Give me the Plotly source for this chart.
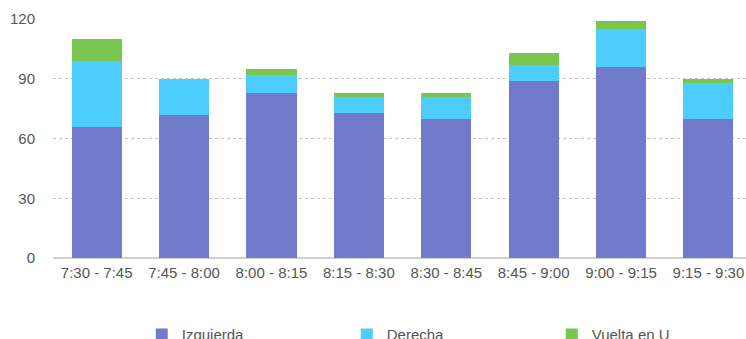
import plotly.graph_objects as go

categories = ["7:30 - 7:45", "7:45 - 8:00", "8:00 - 8:15", "8:15 - 8:30",
              "8:30 - 8:45", "8:45 - 9:00", "9:00 - 9:15", "9:15 - 9:30"]
izquierda = [66, 72, 83, 73, 70, 89, 96, 70]
derecha = [33, 18, 9, 8, 11, 8, 19, 18]
vuelta_u = [11, 0, 3, 2, 2, 6, 4, 2]
y_ticks = [0, 30, 60, 90, 120]

FONT = "Helvetica Neue, Helvetica, Arial, Liberation Sans, sans-serif"
TXT = "#555555"

fig = go.Figure()
fig.add_bar(x=categories, y=izquierda, name="Izquierda", marker=dict(color="#727BCB", line=dict(width=0)))
fig.add_bar(x=categories, y=derecha, name="Derecha", marker=dict(color="#4DCCFE", line=dict(width=0)))
fig.add_bar(x=categories, y=vuelta_u, name="Vuelta en U", marker=dict(color="#79C751", line=dict(width=0)))

fig.update_layout(
    width=746, height=339,
    barmode="stack", bargap=0.427,
    margin=dict(l=53, r=0, t=19, b=81),
    paper_bgcolor="white", plot_bgcolor="white",
    font=dict(family=FONT, size=15, color=TXT),
    showlegend=True,
    legend=dict(
        orientation="h", xref="container", yref="container",
        x=0.19, xanchor="left", y=0.061, yanchor="top",
        entrywidth=160, entrywidthmode="pixels",
        font=dict(family=FONT, size=15, color=TXT),
        traceorder="normal",
    ),
)
fig.update_xaxes(
    range=[-0.5, 7.43], showgrid=False, showline=False, ticks="",
    tickfont=dict(family=FONT, size=15, color=TXT), ticklabelstandoff=4,
)
fig.update_yaxes(
    range=[0, 120], tickvals=y_ticks, showgrid=True, gridcolor="#c4c4c4",
    griddash="dot", gridwidth=1, zeroline=True, zerolinecolor="#d0d0d0",
    zerolinewidth=2, showline=False, ticks="",
    tickfont=dict(family=FONT, size=15, color=TXT), ticklabelstandoff=17,
)

fig.write_html(
    "out.html",
    config={"displayModeBar": False},
    post_script="document.body.style.margin='0';document.body.style.overflow='hidden';",
)
